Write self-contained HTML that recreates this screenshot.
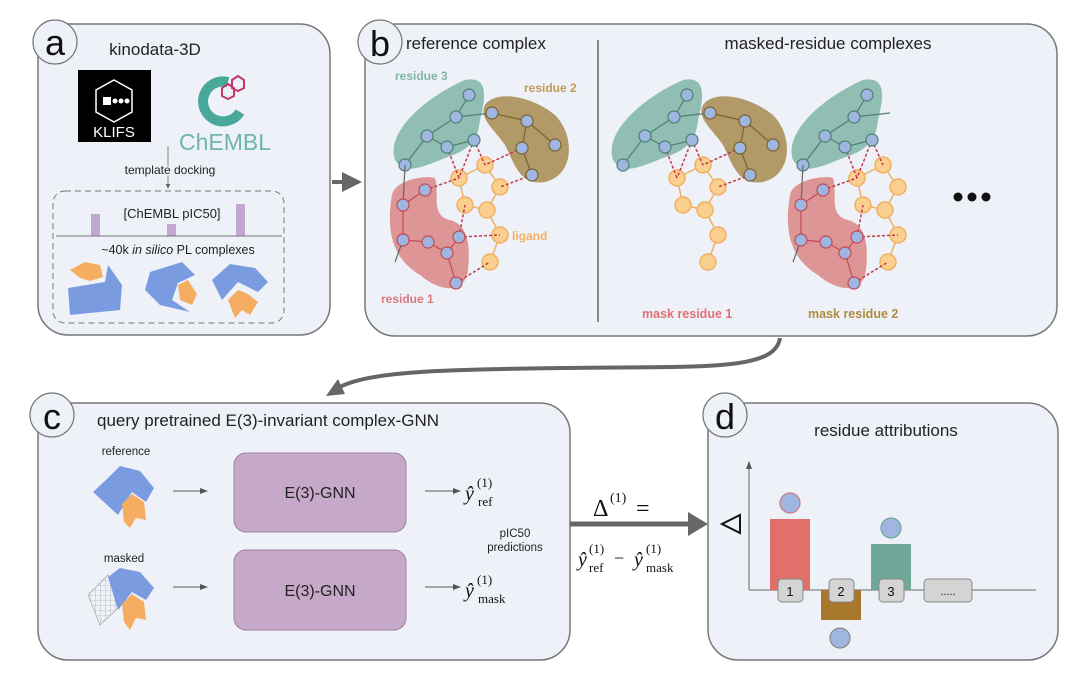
<!DOCTYPE html>
<html><head><meta charset="utf-8"><style>
html,body{margin:0;padding:0;background:#fff;}
svg{display:block;font-family:"Liberation Sans","DejaVu Sans",sans-serif;}
</style></head><body>
<svg width="1080" height="683" viewBox="0 0 1080 683" xmlns="http://www.w3.org/2000/svg">
<defs>
<marker id="ah" markerWidth="6" markerHeight="6" refX="5" refY="3" orient="auto" markerUnits="strokeWidth"><path d="M0,0 L6,3 L0,6 z" fill="#666"/></marker>
<marker id="sh" markerWidth="8" markerHeight="8" refX="7" refY="4" orient="auto" markerUnits="userSpaceOnUse"><path d="M0,1 L8,4 L0,7 z" fill="#555"/></marker>
<pattern id="grid" width="5" height="5" patternUnits="userSpaceOnUse"><path d="M5,0 L0,0 0,5" fill="none" stroke="#999" stroke-width="0.6"/></pattern>
<g id="r3blob"><path d="M395,160 C385,130 430,95 465,80 C490,75 485,100 480,120 C478,140 470,150 445,158 C420,168 405,175 395,160 z" fill="#7fb5a6" opacity="0.85"/></g>
<g id="r2blob"><path d="M485,105 C495,90 530,95 555,115 C575,135 575,175 545,182 C520,186 515,165 505,145 C495,130 478,118 485,105 z" fill="#a68a4f" opacity="0.85"/></g>
<g id="r1blob"><path d="M392,195 C395,180 425,175 435,178 C440,195 430,215 450,220 C470,225 470,250 468,270 C465,295 440,292 420,275 C395,260 385,235 392,195 z" fill="#d98585" opacity="0.85"/></g>
<g id="lig" stroke="#f0b060" stroke-width="1.5" fill="#fbcf8f">
<line x1="459" y1="178" x2="485" y2="165"/><line x1="485" y1="165" x2="500" y2="187"/><line x1="500" y1="187" x2="487" y2="210"/><line x1="487" y1="210" x2="465" y2="205"/><line x1="465" y1="205" x2="459" y2="178"/><line x1="487" y1="210" x2="500" y2="235"/><line x1="500" y1="235" x2="490" y2="262"/>
<circle cx="459" cy="178" r="8"/><circle cx="485" cy="165" r="8"/><circle cx="500" cy="187" r="8"/><circle cx="465" cy="205" r="8"/><circle cx="487" cy="210" r="8"/><circle cx="500" cy="235" r="8"/><circle cx="490" cy="262" r="8"/>
</g>
<g id="r3n" stroke="#4f7f70" stroke-width="1.2" fill="#9eb6e0">
<g stroke="#c03a4a" stroke-dasharray="3,2" stroke-width="1.5"><line x1="447" y1="147" x2="459" y2="178"/><line x1="474" y1="140" x2="459" y2="178"/><line x1="474" y1="140" x2="485" y2="165"/></g>
<line x1="469" y1="95" x2="456" y2="117"/><line x1="456" y1="117" x2="427" y2="136"/><line x1="427" y1="136" x2="405" y2="165"/><line x1="427" y1="136" x2="447" y2="147"/><line x1="447" y1="147" x2="474" y2="140"/><line x1="456" y1="117" x2="492" y2="113"/>
<circle cx="469" cy="95" r="6"/><circle cx="456" cy="117" r="6"/><circle cx="427" cy="136" r="6"/><circle cx="447" cy="147" r="6"/><circle cx="474" cy="140" r="6"/><circle cx="405" cy="165" r="6"/>
</g>
<g id="r2n" stroke="#7a6330" stroke-width="1.2" fill="#9eb6e0">
<g stroke="#c03a4a" stroke-dasharray="3,2" stroke-width="1.5"><line x1="522" y1="148" x2="485" y2="165"/><line x1="532" y1="175" x2="500" y2="187"/></g>
<line x1="492" y1="113" x2="527" y2="121"/><line x1="527" y1="121" x2="522" y2="148"/><line x1="527" y1="121" x2="555" y2="145"/><line x1="522" y1="148" x2="532" y2="175"/>
<circle cx="492" cy="113" r="6"/><circle cx="527" cy="121" r="6"/><circle cx="522" cy="148" r="6"/><circle cx="555" cy="145" r="6"/><circle cx="532" cy="175" r="6"/>
</g>
<g id="r1n" stroke="#c04a55" stroke-width="1.2" fill="#9eb6e0">
<g stroke="#c03a4a" stroke-dasharray="3,2" stroke-width="1.5"><line x1="425" y1="190" x2="459" y2="178"/><line x1="459" y1="237" x2="465" y2="205"/><line x1="459" y1="237" x2="500" y2="235"/><line x1="456" y1="283" x2="490" y2="262"/></g>
<line x1="405" y1="165" x2="403" y2="205" stroke="#666"/><line x1="425" y1="190" x2="403" y2="205"/><line x1="403" y1="205" x2="403" y2="240"/><line x1="403" y1="240" x2="428" y2="242"/><line x1="428" y1="242" x2="447" y2="253"/><line x1="447" y1="253" x2="459" y2="237"/><line x1="447" y1="253" x2="456" y2="283"/><line x1="403" y1="240" x2="395" y2="262" stroke="#666"/>
<circle cx="425" cy="190" r="6"/><circle cx="403" cy="205" r="6"/><circle cx="403" cy="240" r="6"/><circle cx="428" cy="242" r="6"/><circle cx="447" cy="253" r="6"/><circle cx="459" cy="237" r="6"/><circle cx="456" cy="283" r="6"/>
</g>
</defs>

<!-- Panel a -->
<rect x="38" y="24" width="292" height="311" rx="30" fill="#eef2f8" stroke="#777" stroke-width="1.5"/>
<circle cx="55" cy="42" r="22" fill="#eef2f8" stroke="#777" stroke-width="1.2"/>
<text x="55" y="55" font-size="36" text-anchor="middle" fill="#111">a</text>
<text x="155" y="55" font-size="17" text-anchor="middle" fill="#222">kinodata-3D</text>
<rect x="78" y="70" width="73" height="72" fill="#000"/>
<polygon points="114,80 132,90 132,112 114,122 96,112 96,90" fill="none" stroke="#fff" stroke-width="1.5"/>
<rect x="103" y="97" width="8" height="8" fill="#fff"/><circle cx="115" cy="101" r="2.5" fill="#fff"/><circle cx="121" cy="101" r="2.5" fill="#fff"/><circle cx="127" cy="101" r="2.5" fill="#fff"/>
<text x="114" y="137" font-size="15" fill="#fff" text-anchor="middle">KLIFS</text>
<path d="M228,82 A20,20 0 1 0 240,112" fill="none" stroke="#4aa89a" stroke-width="10"/>
<polygon points="222,88 228,84 234,88 234,96 228,99 222,96" fill="none" stroke="#c2386a" stroke-width="2"/>
<polygon points="232,80 238,76 244,80 244,88 238,91 232,88" fill="none" stroke="#c2386a" stroke-width="2"/>
<text x="225" y="150" font-size="23" fill="#6fb5a8" text-anchor="middle">ChEMBL</text>
<line x1="168" y1="146" x2="168" y2="188" stroke="#666" stroke-width="0.8" marker-end="url(#ah)"/>
<text x="170" y="174" font-size="12" text-anchor="middle" fill="#222" style="paint-order:stroke" stroke="#eef2f8" stroke-width="3">template docking</text>
<rect x="53" y="191" width="231" height="132" rx="12" fill="none" stroke="#777" stroke-dasharray="6,4" stroke-width="1"/>
<rect x="91" y="214" width="9" height="22" fill="#c2a8d0"/><rect x="167" y="224" width="9" height="12" fill="#c2a8d0"/><rect x="236" y="204" width="9" height="32" fill="#c2a8d0"/>
<text x="172" y="218" font-size="13" text-anchor="middle" fill="#222">[ChEMBL pIC50]</text>
<line x1="56" y1="236" x2="282" y2="236" stroke="#777" stroke-width="1"/>
<text x="178" y="254" font-size="12.5" text-anchor="middle" fill="#222">~40k <tspan font-style="italic">in silico</tspan> PL complexes</text>
<polygon points="68,288 105,282 108,265 122,285 120,310 70,315" fill="#7a9be0"/>
<polygon points="70,270 85,262 100,265 103,277 90,281 80,278" fill="#f5ad62"/>
<polygon points="150,272 182,262 195,275 178,283 172,300 190,312 160,305 145,290" fill="#7a9be0"/>
<polygon points="178,285 188,280 197,294 192,305 180,300" fill="#f5ad62"/>
<polygon points="212,280 230,264 255,268 268,282 258,292 238,282 222,300" fill="#7a9be0"/>
<polygon points="228,300 238,290 248,294 258,302 250,315 242,310 235,318" fill="#f5ad62"/>

<!-- arrow a->b -->
<line x1="332" y1="182" x2="345" y2="182" stroke="#666" stroke-width="4"/>
<polygon points="342,172 362,182 342,192" fill="#666"/>

<!-- Panel b -->
<rect x="365" y="24" width="692" height="312" rx="30" fill="#eef2f8" stroke="#777" stroke-width="1.5"/>
<circle cx="380" cy="42" r="22" fill="#eef2f8" stroke="#777" stroke-width="1.2"/>
<text x="380" y="56" font-size="36" text-anchor="middle" fill="#111">b</text>
<text x="406" y="49" font-size="17" fill="#222">reference complex</text>
<text x="828" y="49" font-size="17" text-anchor="middle" fill="#222">masked-residue complexes</text>
<line x1="598" y1="40" x2="598" y2="322" stroke="#666" stroke-width="1.5"/>
<use href="#r3blob"/><use href="#r2blob"/><use href="#r1blob"/>
<use href="#lig"/><use href="#r3n"/><use href="#r2n"/><use href="#r1n"/>
<text x="395" y="80" font-size="12" font-weight="bold" fill="#7fb5a6">residue 3</text>
<text x="524" y="92" font-size="12" font-weight="bold" fill="#c09a55">residue 2</text>
<text x="512" y="240" font-size="12" font-weight="bold" fill="#f5b060">ligand</text>
<text x="381" y="303" font-size="12" font-weight="bold" fill="#d87880">residue 1</text>
<g transform="translate(218,0)"><use href="#r3blob"/><use href="#r2blob"/><use href="#lig"/><use href="#r3n"/><use href="#r2n"/></g>
<text x="642" y="318" font-size="12.5" font-weight="bold" fill="#e07075">mask residue 1</text>
<g transform="translate(398,0)"><use href="#r3blob"/><use href="#r1blob"/><use href="#lig"/><use href="#r3n"/><use href="#r1n"/></g>
<text x="808" y="318" font-size="12.5" font-weight="bold" fill="#b08a40">mask residue 2</text>
<circle cx="958" cy="197" r="4.5" fill="#111"/><circle cx="972" cy="197" r="4.5" fill="#111"/><circle cx="986" cy="197" r="4.5" fill="#111"/>

<!-- curved arrow -->
<path d="M780,338 C775,372 700,366 560,368 C450,370 370,370 338,388" fill="none" stroke="#666" stroke-width="4"/>
<polygon points="326,396 338,379 345,394" fill="#666"/>

<!-- Panel c -->
<rect x="38" y="403" width="532" height="257" rx="30" fill="#eef2f8" stroke="#777" stroke-width="1.5"/>
<circle cx="52" cy="415" r="22" fill="#eef2f8" stroke="#777" stroke-width="1.2"/>
<text x="52" y="429" font-size="36" text-anchor="middle" fill="#111">c</text>
<text x="97" y="426" font-size="17" fill="#222">query pretrained E(3)-invariant complex-GNN</text>
<text x="126" y="455" font-size="11.5" text-anchor="middle" fill="#222">reference</text>
<polygon points="108,478 120,466 140,471 154,488 146,502 132,492 118,515 93,492" fill="#7a9be0"/>
<polygon points="122,504 132,494 144,502 146,520 136,518 130,528 124,522" fill="#f5ad62"/>
<text x="124" y="562" font-size="11.5" text-anchor="middle" fill="#222">masked</text>
<polygon points="88,595 108,575 118,608 100,625" fill="url(#grid)" stroke="#999" stroke-width="0.6"/>
<polygon points="108,577 120,568 140,572 154,588 146,600 132,592 118,610" fill="#7a9be0"/>
<polygon points="122,604 132,594 144,602 146,620 136,618 130,630 124,622" fill="#f5ad62"/>
<line x1="173" y1="491" x2="207" y2="491" stroke="#555" stroke-width="1" marker-end="url(#sh)"/>
<line x1="173" y1="587" x2="207" y2="587" stroke="#555" stroke-width="1" marker-end="url(#sh)"/>
<rect x="234" y="453" width="172" height="79" rx="12" fill="#c6a8c8" stroke="#9a809c" stroke-width="1"/>
<rect x="234" y="550" width="172" height="80" rx="12" fill="#c6a8c8" stroke="#9a809c" stroke-width="1"/>
<text x="320" y="498" font-size="16" text-anchor="middle" fill="#222">E(3)-GNN</text>
<text x="320" y="596" font-size="16" text-anchor="middle" fill="#222">E(3)-GNN</text>
<line x1="425" y1="491" x2="460" y2="491" stroke="#555" stroke-width="1" marker-end="url(#sh)"/>
<line x1="425" y1="587" x2="460" y2="587" stroke="#555" stroke-width="1" marker-end="url(#sh)"/>
<g font-family="Liberation Serif, serif" fill="#111">
<text x="465" y="500" font-size="20" font-style="italic">ŷ</text><text x="477" y="487" font-size="13">(1)</text><text x="478" y="506" font-size="13">ref</text>
<text x="465" y="597" font-size="20" font-style="italic">ŷ</text><text x="477" y="584" font-size="13">(1)</text><text x="478" y="603" font-size="13">mask</text>
</g>
<text x="515" y="537" font-size="11.5" text-anchor="middle" fill="#222">pIC50</text>
<text x="515" y="551" font-size="11.5" text-anchor="middle" fill="#222">predictions</text>

<!-- delta arrow -->
<line x1="570" y1="524" x2="690" y2="524" stroke="#666" stroke-width="5"/>
<polygon points="688,512 708,524 688,536" fill="#666"/>
<g font-family="Liberation Serif, serif" fill="#111">
<text x="593" y="516" font-size="24">Δ</text><text x="610" y="502" font-size="14">(1)</text><text x="636" y="516" font-size="24">=</text>
<text x="578" y="566" font-size="20" font-style="italic">ŷ</text><text x="589" y="553" font-size="13">(1)</text><text x="589" y="572" font-size="13">ref</text>
<text x="614" y="564" font-size="18">−</text>
<text x="634" y="566" font-size="20" font-style="italic">ŷ</text><text x="646" y="553" font-size="13">(1)</text><text x="646" y="572" font-size="13">mask</text>
</g>

<!-- Panel d -->
<rect x="708" y="403" width="350" height="257" rx="30" fill="#eef2f8" stroke="#777" stroke-width="1.5"/>
<circle cx="725" cy="415" r="22" fill="#eef2f8" stroke="#777" stroke-width="1.2"/>
<text x="725" y="429" font-size="36" text-anchor="middle" fill="#111">d</text>
<text x="886" y="436" font-size="17" text-anchor="middle" fill="#222">residue attributions</text>
<polygon points="740,515 740,533 722,524" fill="none" stroke="#111" stroke-width="2"/>
<line x1="749" y1="590" x2="749" y2="462" stroke="#666" stroke-width="1" marker-end="url(#sh)"/>
<line x1="749" y1="590" x2="1036" y2="590" stroke="#666" stroke-width="1"/>
<rect x="770" y="519" width="40" height="71" fill="#e2706a"/>
<rect x="821" y="590" width="40" height="30" fill="#a8782c"/>
<rect x="871" y="544" width="40" height="46" fill="#6fa898"/>
<circle cx="790" cy="503" r="10" fill="#9eb6e0" stroke="#d07a80" stroke-width="1.2"/>
<circle cx="840" cy="638" r="10" fill="#9eb6e0" stroke="#888" stroke-width="1.2"/>
<circle cx="891" cy="528" r="10" fill="#9eb6e0" stroke="#6fa898" stroke-width="1.2"/>
<g fill="#d4d4d4" stroke="#888" stroke-width="1">
<rect x="778" y="579" width="25" height="23" rx="4"/><rect x="829" y="579" width="25" height="23" rx="4"/><rect x="879" y="579" width="25" height="23" rx="4"/><rect x="924" y="579" width="48" height="23" rx="4"/>
</g>
<text x="790" y="596" font-size="13" text-anchor="middle" fill="#111">1</text>
<text x="841" y="596" font-size="13" text-anchor="middle" fill="#111">2</text>
<text x="891" y="596" font-size="13" text-anchor="middle" fill="#111">3</text>
<text x="948" y="595" font-size="11" text-anchor="middle" fill="#111">.....</text>
</svg>
</body></html>
